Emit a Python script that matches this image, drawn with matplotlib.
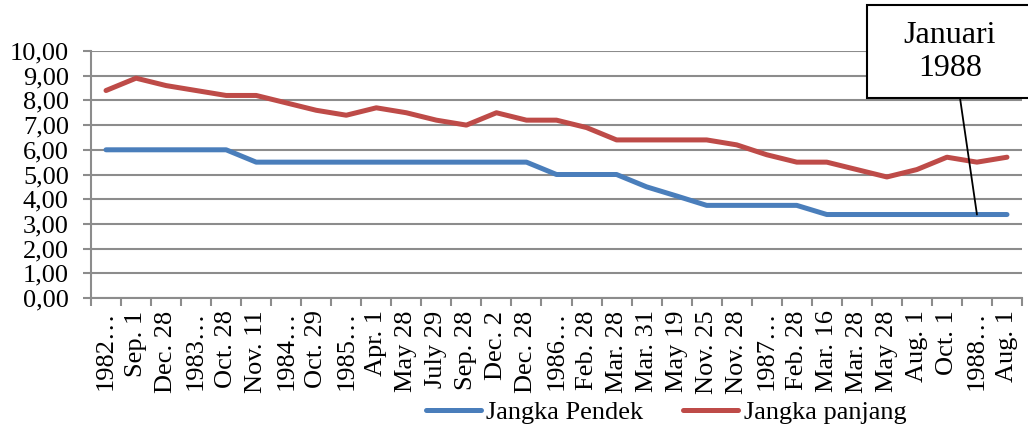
import matplotlib
matplotlib.use("Agg")
import matplotlib.pyplot as plt
from matplotlib.patches import Rectangle

plt.rcParams['font.family'] = ['Liberation Serif', 'DejaVu Serif']

categories = ["1982…", "Sep. 1", "Dec. 28", "1983…", "Oct. 28", "Nov. 11", "1984…",
              "Oct. 29", "1985…", "Apr. 1", "May 28", "July 29", "Sep. 28", "Dec. 2",
              "Dec. 28", "1986…", "Feb. 28", "Mar. 28", "Mar. 31", "May 19", "Nov. 25",
              "Nov. 28", "1987…", "Feb. 28", "Mar. 16", "Mar. 28", "May 28", "Aug. 1",
              "Oct. 1", "1988…", "Aug. 1"]

jangka_pendek = [6.00, 6.00, 6.00, 6.00, 6.00, 5.50, 5.50, 5.50, 5.50, 5.50, 5.50,
                 5.50, 5.50, 5.50, 5.50, 5.00, 5.00, 5.00, 4.50, 4.13, 3.75, 3.75,
                 3.75, 3.75, 3.38, 3.38, 3.38, 3.38, 3.38, 3.38, 3.38]

jangka_panjang = [8.40, 8.90, 8.60, 8.40, 8.20, 8.20, 7.90, 7.60, 7.40, 7.70, 7.50,
                  7.20, 7.00, 7.50, 7.20, 7.20, 6.90, 6.40, 6.40, 6.40, 6.40, 6.20,
                  5.80, 5.50, 5.50, 5.20, 4.90, 5.20, 5.70, 5.50, 5.70]

y_ticks = [0, 1, 2, 3, 4, 5, 6, 7, 8, 9, 10]
annot_text = "Januari\n1988"
annot_index = 29

W, H = 1028, 432
FS = 19
fig = plt.figure(figsize=(W / 100, H / 100), dpi=100)
ax = fig.add_axes([91 / W, 1 - 298 / H, (1022 - 91) / W, (298 - 51) / H])

x = list(range(len(categories)))
ax.plot(x, jangka_pendek, color='#4a7ebb', lw=3.6, solid_capstyle='round',
        solid_joinstyle='round', label='Jangka Pendek', zorder=3)
ax.plot(x, jangka_panjang, color='#be4b48', lw=3.6, solid_capstyle='round',
        solid_joinstyle='round', label='Jangka panjang', zorder=3)

ax.set_xlim(-0.5, len(categories) - 0.5)
ax.set_ylim(0, 10)
ax.set_yticks(y_ticks)
ax.set_yticklabels([f"{v:.2f}".replace('.', ',') for v in y_ticks], fontsize=FS)
ax.yaxis.grid(True, color='#8c8c8c', lw=1.5)
ax.set_axisbelow(True)

ax.set_xticks(x)
ax.set_xticklabels(categories, rotation=90, fontsize=FS, va='top', ha='center')
ax.set_xticks([i - 0.5 for i in range(len(categories) + 1)], minor=True)
ax.tick_params(axis='x', which='major', length=0, pad=9)
ax.tick_params(axis='x', which='minor', length=6, color='#8c8c8c', width=1.5)
ax.tick_params(axis='y', length=6, color='#8c8c8c', width=1.5, pad=10)

for s in ['top', 'right']:
    ax.spines[s].set_visible(False)
for s in ['left', 'bottom']:
    ax.spines[s].set_color('#8c8c8c')
    ax.spines[s].set_linewidth(1.5)

leg = fig.legend(loc='center', bbox_to_anchor=(666 / W, 1 - 412 / H), ncol=2,
                 frameon=False, fontsize=FS, handlelength=2.1, columnspacing=1.5,
                 handletextpad=0.2)

# annotation callout
rect = Rectangle((867 / W, 1 - 98 / H), (1040 - 867) / W, (98 - 5) / H,
                 transform=fig.transFigure, facecolor='white', edgecolor='black',
                 lw=1.5, zorder=5, clip_on=False)
fig.add_artist(rect)
fig.text(950 / W, 1 - 52 / H, annot_text, ha='center', va='center', fontsize=23,
         linespacing=1.2, zorder=6)
ax.annotate('', xy=(annot_index, jangka_pendek[annot_index]), xycoords='data',
            xytext=(960 / W, 1 - 98 / H), textcoords='figure fraction',
            arrowprops=dict(arrowstyle='-', color='black', lw=1.3,
                            shrinkA=0, shrinkB=0), zorder=6)

fig.savefig('out.png', dpi=100)
